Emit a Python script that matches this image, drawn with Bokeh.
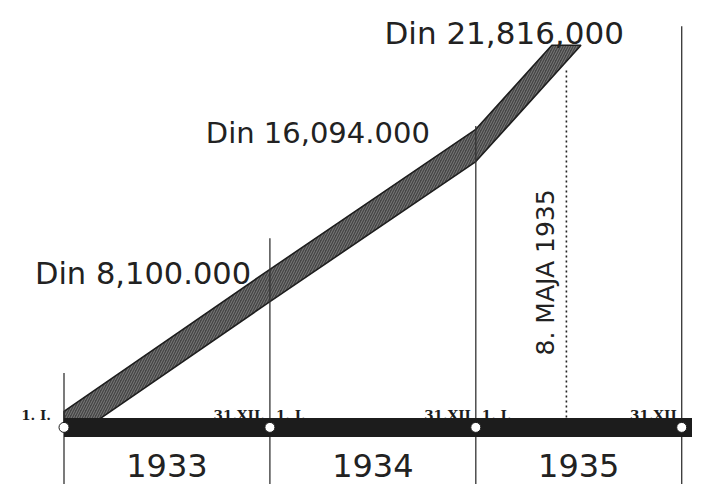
import numpy as np
from bokeh.plotting import figure
from bokeh.models import Range1d
from bokeh.core.properties import value
from bokeh.embed import file_html
from bokeh.resources import INLINE

# ---------------- data ----------------
years = ["1933", "1934", "1935"]
year_bounds = [1933.0, 1934.0, 1935.0, 1936.0]
start_labels = ["1. I.", "1. I.", "1. I."]          # at 1933, 1934, 1935
end_labels = ["31.XII.", "31.XII", "31.XII"]         # at 1934, 1935, 1936
point_x = [1933.0, 1934.0, 1935.0, 1935.44]          # year (8 May 1935 as drawn)
point_mdin = [0.0, 8.1, 16.094, 21.816]              # millions of dinars
point_labels = ["Din 8,100.000", "Din 16,094.000", "Din 21,816,000"]
date_label = "8. MAJA 1935"

# ---------------- style ----------------
W, H = 692, 484
X0, X1 = 1932.6916, 1936.0524
Y0, Y1 = -3.259, 24.367
BAND_HALF = 0.92                     # half vertical thickness of band (M din)
LINE_TOPS = [3.1, 10.8, 17.2, 22.9]  # drawn heights of the year lines
DOT_TOP = 20.5
INK = "#1c1c1c"
FONT = value("DejaVu Sans")
SERIF = value("DejaVu Serif")

p = figure(width=W, height=H, x_range=Range1d(X0, X1), y_range=Range1d(Y0, Y1),
           output_backend="svg", toolbar_location=None, min_border=0,
           x_axis_location=None, y_axis_location=None)
p.grid.visible = False
p.outline_line_color = None
p.background_fill_color = "white"

# ---- band polygon derived from the data ----
px = np.array(point_x)
py = np.array(point_mdin)
d = BAND_HALF
s_first = (py[1] - py[0]) / (px[1] - px[0])
s_last = (py[-1] - py[-2]) / (px[-1] - px[-2])
upper_x = [px[0]] + list(px[1:-1]) + [px[-1] - d / s_last]
upper_y = [py[0] + d] + list(py[1:-1] + d) + [py[-1]]
lower_x = [px[-1] + d / s_last] + list(px[-2:0:-1]) + [px[0] + d / s_first, px[0]]
lower_y = [py[-1]] + list(py[-2:0:-1] - d) + [py[0], py[0]]
p.patch(upper_x + lower_x, upper_y + lower_y,
        fill_color="#454545", line_color="#1e1e1e", line_width=1.6,
        hatch_pattern="/", hatch_color="#a0a0a0", hatch_scale=5, hatch_weight=0.6)

# ---- year boundary lines ----
p.segment(x0=year_bounds, y0=[Y0 - 1] * 4, x1=year_bounds, y1=LINE_TOPS,
          line_color="#333333", line_width=1.3)

# ---- dotted line for 8 May 1935 ----
p.segment(x0=[point_x[-1]], y0=[0], x1=[point_x[-1]], y1=[DOT_TOP],
          line_color="#222222", line_width=1.6, line_dash="2 3")

# ---- thick time bar ----
p.segment(x0=[year_bounds[0]], y0=[0], x1=[X1 + 1], y1=[0],
          line_color=INK, line_width=19, line_cap="butt")
p.scatter(year_bounds, [0] * 4, size=10, fill_color="white",
          line_color=INK, line_width=1)

# ---- small date labels ----
small = dict(text_baseline="alphabetic", text_font=SERIF, text_font_style="bold",
             text_font_size="13.5px", text_color=INK)
p.text(x=[year_bounds[0]], y=[0], text=[start_labels[0]], x_offset=-13, y_offset=-12,
       text_align="right", **small)
p.text(x=year_bounds[1:3], y=[0, 0], text=start_labels[1:], x_offset=6, y_offset=-12,
       text_align="left", **small)
p.text(x=year_bounds[1:], y=[0, 0, 0], text=end_labels, x_offset=-5, y_offset=-12,
       text_align="right", **small)

# ---- year labels ----
mids = [(a + b) / 2 for a, b in zip(year_bounds[:-1], year_bounds[1:])]
p.text(x=mids, y=[0] * 3, text=years, y_offset=38, text_align="center",
       text_baseline="middle", text_font=FONT, text_font_size="32px", text_color="#222222")

# ---- value labels ----
p.text(x=point_x[1:], y=point_mdin[1:], text=point_labels,
       x_offset=[-235, -270, -182], y_offset=[-12, -12, -12],
       text_align="left", text_baseline="middle", text_font=FONT,
       text_font_size=["30.5px", "29px", "31px"], text_color="#222222")

# ---- rotated date label ----
p.text(x=[point_x[-1]], y=[0], text=[date_label], angle=np.pi / 2,
       x_offset=-21, y_offset=-155, text_align="center", text_baseline="middle",
       text_font=FONT, text_font_size="25px", text_color="#222222")

open("out.html", "w").write(file_html(p, INLINE))
